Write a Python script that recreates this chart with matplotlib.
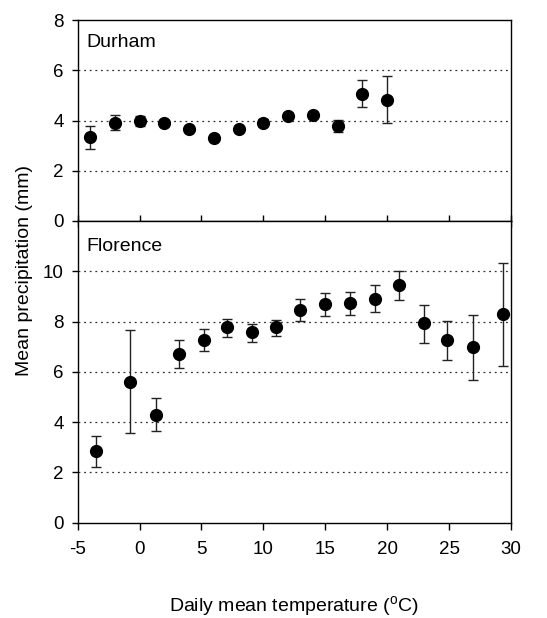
# Mean precipitation vs daily mean temperature, Durham and Florence

import numpy as np
import matplotlib.pyplot as plt

plt.rcParams['font.family'] = ['Liberation Sans', 'DejaVu Sans']
plt.rcParams['mathtext.default'] = 'regular'
plt.rcParams['axes.unicode_minus'] = False

# Durham
durham_t = [-4, -2, 0, 2, 4, 6, 8, 10, 12, 14, 16, 18, 20]
durham_p = [3.33, 3.92, 3.99, 3.91, 3.68, 3.31, 3.66, 3.92, 4.19, 4.23, 3.79, 5.06, 4.82]
durham_lo = [2.86, 3.63, 3.77, 3.78, 3.58, 3.21, 3.56, 3.78, 4.09, 4.11, 3.56, 4.52, 3.90]
durham_hi = [3.80, 4.20, 4.18, 4.04, 3.78, 3.41, 3.76, 4.06, 4.29, 4.35, 4.03, 5.60, 5.76]

# Florence
florence_t = [-3.5, -0.8, 1.3, 3.2, 5.2, 7.1, 9.1, 11.0, 13, 15, 17, 19, 21, 23, 24.8, 26.9, 29.4]
florence_p = [2.84, 5.60, 4.30, 6.70, 7.27, 7.77, 7.57, 7.77, 8.46, 8.71, 8.73, 8.91, 9.45,
              7.94, 7.27, 6.98, 8.30]
florence_lo = [2.23, 3.55, 3.64, 6.14, 6.82, 7.39, 7.20, 7.44, 8.02, 8.23, 8.27, 8.37, 8.87,
               7.16, 6.47, 5.68, 6.25]
florence_hi = [3.43, 7.66, 4.95, 7.27, 7.69, 8.12, 7.90, 8.08, 8.90, 9.15, 9.16, 9.46, 10.0,
               8.67, 8.03, 8.28, 10.32]

xticks = [-5, 0, 5, 10, 15, 20, 25, 30]

fig = plt.figure(figsize=(5.47, 6.18), dpi=100)
left, right = 0.142, 0.934
ax1 = fig.add_axes([left, 0.6424, right - left, 0.9676 - 0.6424])
ax2 = fig.add_axes([left, 0.1542, right - left, 0.6424 - 0.1542])


def draw(ax, t, p, lo, hi, ymax, yticks, grid, name, label_y):
    p = np.array(p)
    err = [p - np.array(lo), np.array(hi) - p]
    ax.errorbar(t, p, yerr=err, fmt='o', color='black', ms=8.5, ecolor='#222222',
                elinewidth=1, capsize=3.5, capthick=1)
    for g in grid:
        ax.axhline(g, color='#333333', lw=0.9, ls=(0, (1.5, 3)), zorder=0)
    ax.set_xlim(-5, 30)
    ax.set_ylim(0, ymax)
    ax.set_yticks(yticks)
    ax.set_xticks(xticks)
    ax.tick_params(labelsize=13.5, length=4, width=1, pad=6)
    for s in ax.spines.values():
        s.set_linewidth(1)
    ax.text(0.021, label_y, name, transform=ax.transAxes, fontsize=14, va='center')


draw(ax1, durham_t, durham_p, durham_lo, durham_hi, 8, [0, 2, 4, 6, 8], [2, 4, 6],
     'Durham', 0.886)
draw(ax2, florence_t, florence_p, florence_lo, florence_hi, 12, [0, 2, 4, 6, 8, 10],
     [2, 4, 6, 8, 10], 'Florence', 0.914)

ax1.tick_params(axis='x', direction='inout', length=8, labelbottom=False)
ax2.tick_params(axis='x', length=5, pad=8)

ax2.set_xlabel(r'Daily mean temperature ($^{o}$C)', fontsize=14, labelpad=26)
fig.text(0.045, 0.5615, 'Mean precipitation (mm)', rotation=90, fontsize=14,
         ha='center', va='center')

fig.savefig('out.png', dpi=100)
